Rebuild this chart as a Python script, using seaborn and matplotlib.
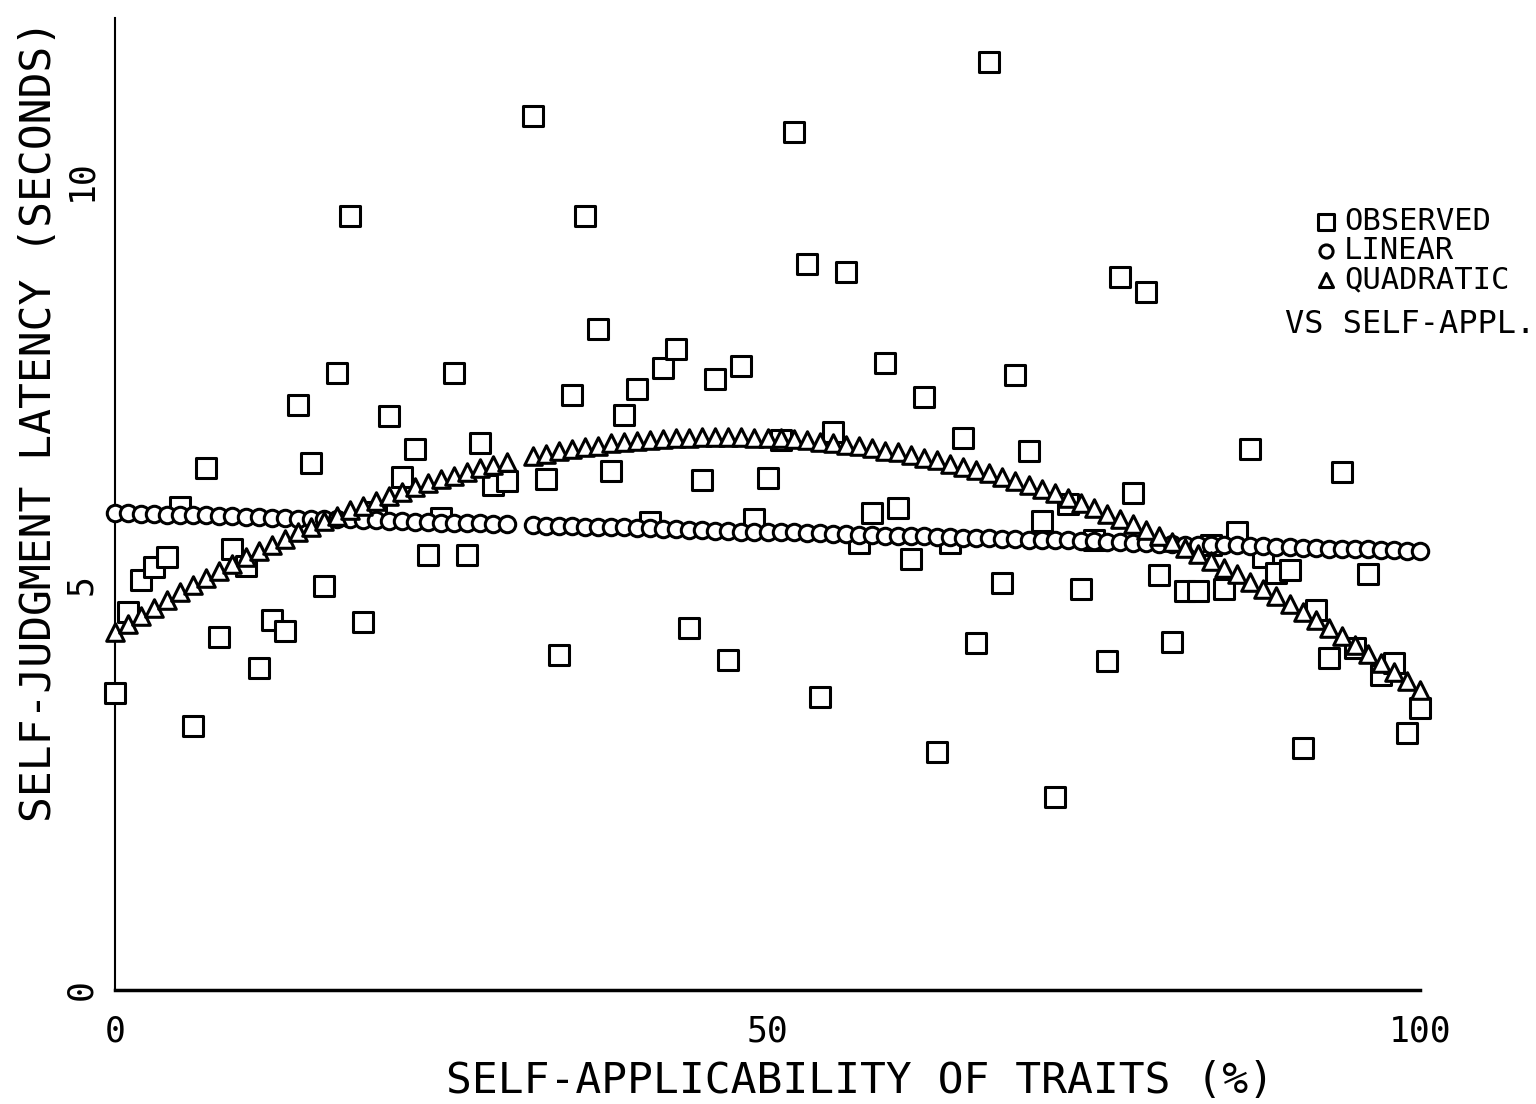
import matplotlib
matplotlib.use("Agg")
import matplotlib.pyplot as plt
import seaborn as sns
import pandas as pd

# self-applicability (%) -- no trait at 31%
applicability = [0, 1, 2, 3, 4, 5, 6, 7, 8, 9, 10, 11, 12, 13, 14, 15, 16, 17, 18, 19,
                 20, 21, 22, 23, 24, 25, 26, 27, 28, 29, 30, 32, 33, 34, 35, 36, 37, 38, 39, 40,
                 41, 42, 43, 44, 45, 46, 47, 48, 49, 50, 51, 52, 53, 54, 55, 56, 57, 58, 59, 60,
                 61, 62, 63, 64, 65, 66, 67, 68, 69, 70, 71, 72, 73, 74, 75, 76, 77, 78, 79, 80,
                 81, 82, 83, 84, 85, 86, 87, 88, 89, 90, 91, 92, 93, 94, 95, 96, 97, 98, 99, 100]

observed = [3.67, 4.67, 5.06, 5.22, 5.35, 5.96, 3.26, 6.44, 4.36, 5.44, 5.23, 3.98, 4.57, 4.43, 7.22, 6.51, 4.99, 7.62, 9.56, 4.54,
            5.90, 7.09, 6.33, 6.68, 5.37, 5.83, 7.62, 5.37, 6.75, 6.23, 6.28, 10.79, 6.31, 4.14, 7.35, 9.56, 8.16, 6.41, 7.10, 7.42,
            5.78, 7.68, 7.91, 4.47, 6.30, 7.54, 4.07, 7.70, 5.81, 6.32, 6.79, 10.59, 8.96, 3.62, 6.89, 8.86, 5.52, 5.89, 7.74, 5.95,
            5.32, 7.32, 2.94, 5.52, 6.81, 4.28, 11.46, 5.02, 7.59, 6.65, 5.79, 2.38, 6.00, 4.95, 5.55, 4.06, 8.80, 6.14, 8.62, 5.12,
            4.30, 4.93, 4.93, 5.49, 4.95, 5.65, 6.68, 5.35, 5.15, 5.19, 2.99, 4.69, 4.10, 6.40, 4.22, 5.14, 3.89, 4.04, 3.17, 3.48]

linear = [5.89, 5.89, 5.88, 5.88, 5.87, 5.87, 5.86, 5.86, 5.85, 5.85, 5.84, 5.84, 5.83, 5.83, 5.82, 5.82, 5.81, 5.81, 5.81, 5.80,
          5.80, 5.79, 5.79, 5.78, 5.78, 5.77, 5.77, 5.76, 5.76, 5.75, 5.75, 5.74, 5.73, 5.73, 5.73, 5.72, 5.72, 5.71, 5.71, 5.70,
          5.70, 5.69, 5.69, 5.68, 5.68, 5.67, 5.67, 5.66, 5.66, 5.66, 5.65, 5.65, 5.64, 5.64, 5.63, 5.63, 5.62, 5.62, 5.61, 5.61,
          5.60, 5.60, 5.59, 5.59, 5.58, 5.58, 5.58, 5.57, 5.57, 5.56, 5.56, 5.55, 5.55, 5.54, 5.54, 5.53, 5.53, 5.52, 5.52, 5.51,
          5.51, 5.50, 5.50, 5.50, 5.49, 5.49, 5.48, 5.48, 5.47, 5.47, 5.46, 5.46, 5.45, 5.45, 5.44, 5.44, 5.43, 5.43, 5.42, 5.42]

quadratic = [4.42, 4.52, 4.62, 4.72, 4.81, 4.91, 5.00, 5.09, 5.17, 5.26, 5.34, 5.42, 5.50, 5.57, 5.65, 5.72, 5.79, 5.85, 5.92, 5.98,
             6.04, 6.10, 6.15, 6.21, 6.26, 6.31, 6.35, 6.40, 6.44, 6.48, 6.52, 6.59, 6.62, 6.65, 6.68, 6.70, 6.72, 6.75, 6.76, 6.78,
             6.79, 6.80, 6.81, 6.82, 6.83, 6.83, 6.83, 6.83, 6.82, 6.82, 6.81, 6.80, 6.79, 6.77, 6.75, 6.73, 6.71, 6.69, 6.66, 6.64,
             6.60, 6.57, 6.54, 6.50, 6.46, 6.42, 6.38, 6.33, 6.28, 6.23, 6.18, 6.13, 6.07, 6.01, 5.95, 5.88, 5.82, 5.75, 5.68, 5.61,
             5.53, 5.46, 5.38, 5.30, 5.21, 5.13, 5.04, 4.95, 4.86, 4.76, 4.67, 4.57, 4.47, 4.37, 4.26, 4.15, 4.04, 3.93, 3.82, 3.70]

df = pd.DataFrame({"applicability": applicability, "observed": observed,
                   "linear": linear, "quadratic": quadratic})

sns.set_style("white")
plt.rcParams['font.family'] = ['DejaVu Sans Mono', 'DejaVu Sans']
plt.rcParams['text.color'] = 'black'
plt.rcParams['axes.labelcolor'] = 'black'

fig = plt.figure(figsize=(15.36, 11.04), dpi=100)
ax = fig.add_axes([115 / 1536, 1 - 990 / 1104, 1305 / 1536, 972 / 1104])

common = dict(x="applicability", facecolor="white", edgecolor="black",
              linewidth=2.2, clip_on=False, zorder=3, ax=ax)
sns.scatterplot(data=df, y="observed", marker="s", s=190, label="OBSERVED", **common)
sns.scatterplot(data=df, y="linear", marker="o", s=140, label="LINEAR", **common)
sns.scatterplot(data=df, y="quadratic", marker="^", s=160, label="QUADRATIC", **common)

ax.set_xlim(0, 100)
ax.set_ylim(0, 12)
ax.set_xticks(range(0, 101, 10))
ax.set_xticklabels(["0", "", "", "", "", "50", "", "", "", "", "100"])
ax.set_yticks(range(0, 13))
ax.set_yticklabels(["0", "", "", "", "", "5", "", "", "", "", "10", "", ""])
ax.tick_params(axis="both", direction="out", length=10, width=1.5,
               labelsize=25, colors="black")
ax.tick_params(axis="y", labelrotation=90, pad=2)
ax.tick_params(axis="x", pad=8)
for lbl in ax.get_yticklabels():
    lbl.set_verticalalignment("center")

sns.despine(ax=ax)
ax.spines["left"].set_linewidth(1.5)
ax.spines["bottom"].set_linewidth(2.5)
ax.spines["left"].set_color("black")
ax.spines["bottom"].set_color("black")
ax.grid(False)

ax.set_xlabel("SELF-APPLICABILITY OF TRAITS (%)", fontsize=31)
ax.xaxis.set_label_coords(0.571, -0.072)
ax.set_ylabel("SELF-JUDGMENT LATENCY (SECONDS)", fontsize=31)
ax.yaxis.set_label_coords(-0.042, 0.585)

ax.legend(loc="upper left", bbox_to_anchor=(1295 / 1536, 1 - 192 / 1104),
          bbox_transform=fig.transFigure, frameon=False, fontsize=22,
          handletextpad=0.1, labelspacing=0.0, borderpad=0, handlelength=1.0,
          markerscale=0.8, labelcolor="black")
fig.text(1285 / 1536, 1 - 325 / 1104, "VS SELF-APPL.", fontsize=23,
         va="center", ha="left", color="black")

fig.savefig("out.png", dpi=100)
